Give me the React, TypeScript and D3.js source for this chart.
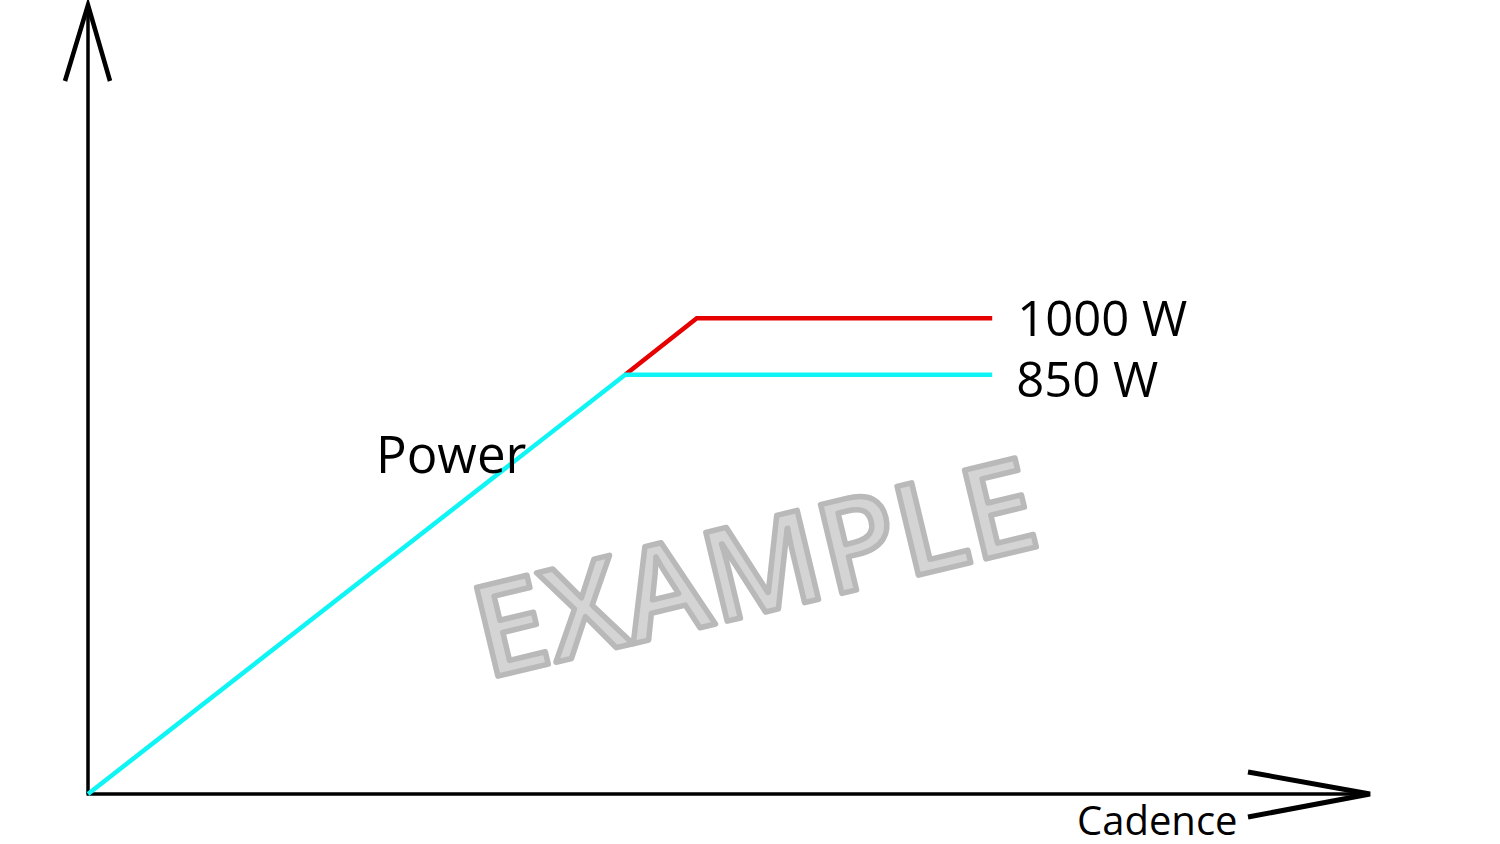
import React, { useMemo } from 'react';
import * as d3 from 'd3';

// cadence (rpm) / power (W)
const cadence850 = [0, 60, 101];
const power850 = [0, 850, 850];
const cadence1000 = [60, 68, 101];
const power1000 = [850, 965, 965];

const seriesLabels = ['850 W', '1000 W'];
const xLabel = 'Cadence';
const yLabel = 'Power';
const watermark = 'EXAMPLE';

const W = 1500;
const H = 844;
const FONT = '"Open Sans", "Noto Sans", sans-serif';

type Pt = { c: number; p: number };

const App: React.FC = () => {
  const x = useMemo(() => d3.scaleLinear().domain([0, 143.2]).range([88, 1370]), []);
  const y = useMemo(() => d3.scaleLinear().domain([0, 1600]).range([794, 5]), []);

  const line = d3
    .line<Pt>()
    .x(d => x(d.c))
    .y(d => y(d.p));

  const low: Pt[] = cadence850.map((c, i) => ({ c, p: power850[i] }));
  const high: Pt[] = cadence1000.map((c, i) => ({ c, p: power1000[i] }));

  const [x0, x1] = x.range();
  const [y0, y1] = y.range();

  // arrow heads as open chevrons
  const yArrow = `M${x0 - 23},${y1 + 76} L${x0},${y1} L${x0 + 22},${y1 + 76}`;
  const xArrow = `M${x1 - 122},${y0 - 22} L${x1},${y0} L${x1 - 122},${y0 + 23}`;

  const lowEnd = low[low.length - 1];
  const highEnd = high[high.length - 1];

  return (
    <svg
      width={W}
      height={H}
      style={{ position: 'absolute', left: 0, top: 0, background: '#fff' }}
      fontFamily={FONT}
    >
      {/* axes */}
      <line x1={x0} y1={y0} x2={x0} y2={y1 + 4} stroke="#000" strokeWidth={3.5} />
      <line x1={x0 - 1.5} y1={y0} x2={x1 - 4} y2={y0} stroke="#000" strokeWidth={3.5} />
      <path d={yArrow} fill="none" stroke="#000" strokeWidth={4.5} strokeLinejoin="miter" />
      <path d={xArrow} fill="none" stroke="#000" strokeWidth={5} strokeLinejoin="miter" />

      {/* power curves */}
      <path d={line(high) ?? ''} fill="none" stroke="#e60000" strokeWidth={4.5} />
      <path d={line(low) ?? ''} fill="none" stroke="#0ff5f5" strokeWidth={4.5} />

      <text x={x(highEnd.c) + 25} y={y(highEnd.p) + 18} fontSize={49} fill="#000">
        {seriesLabels[1]}
      </text>
      <text x={x(lowEnd.c) + 24} y={y(lowEnd.p) + 22} fontSize={49} fill="#000">
        {seriesLabels[0]}
      </text>

      <text x={376} y={473} fontSize={51} fill="#000">
        {yLabel}
      </text>
      <text x={1077} y={835} fontSize={40} fill="#000">
        {xLabel}
      </text>

      {/* watermark */}
      <text
        transform="translate(765,612) rotate(-13.5)"
        textAnchor="middle"
        fontSize={128}
        fontWeight={600}
        fill="#d4d4d4"
        stroke="#b9b9b9"
        strokeWidth={5.5}
        strokeLinejoin="round"
      >
        {watermark}
      </text>
    </svg>
  );
};

export default App;
